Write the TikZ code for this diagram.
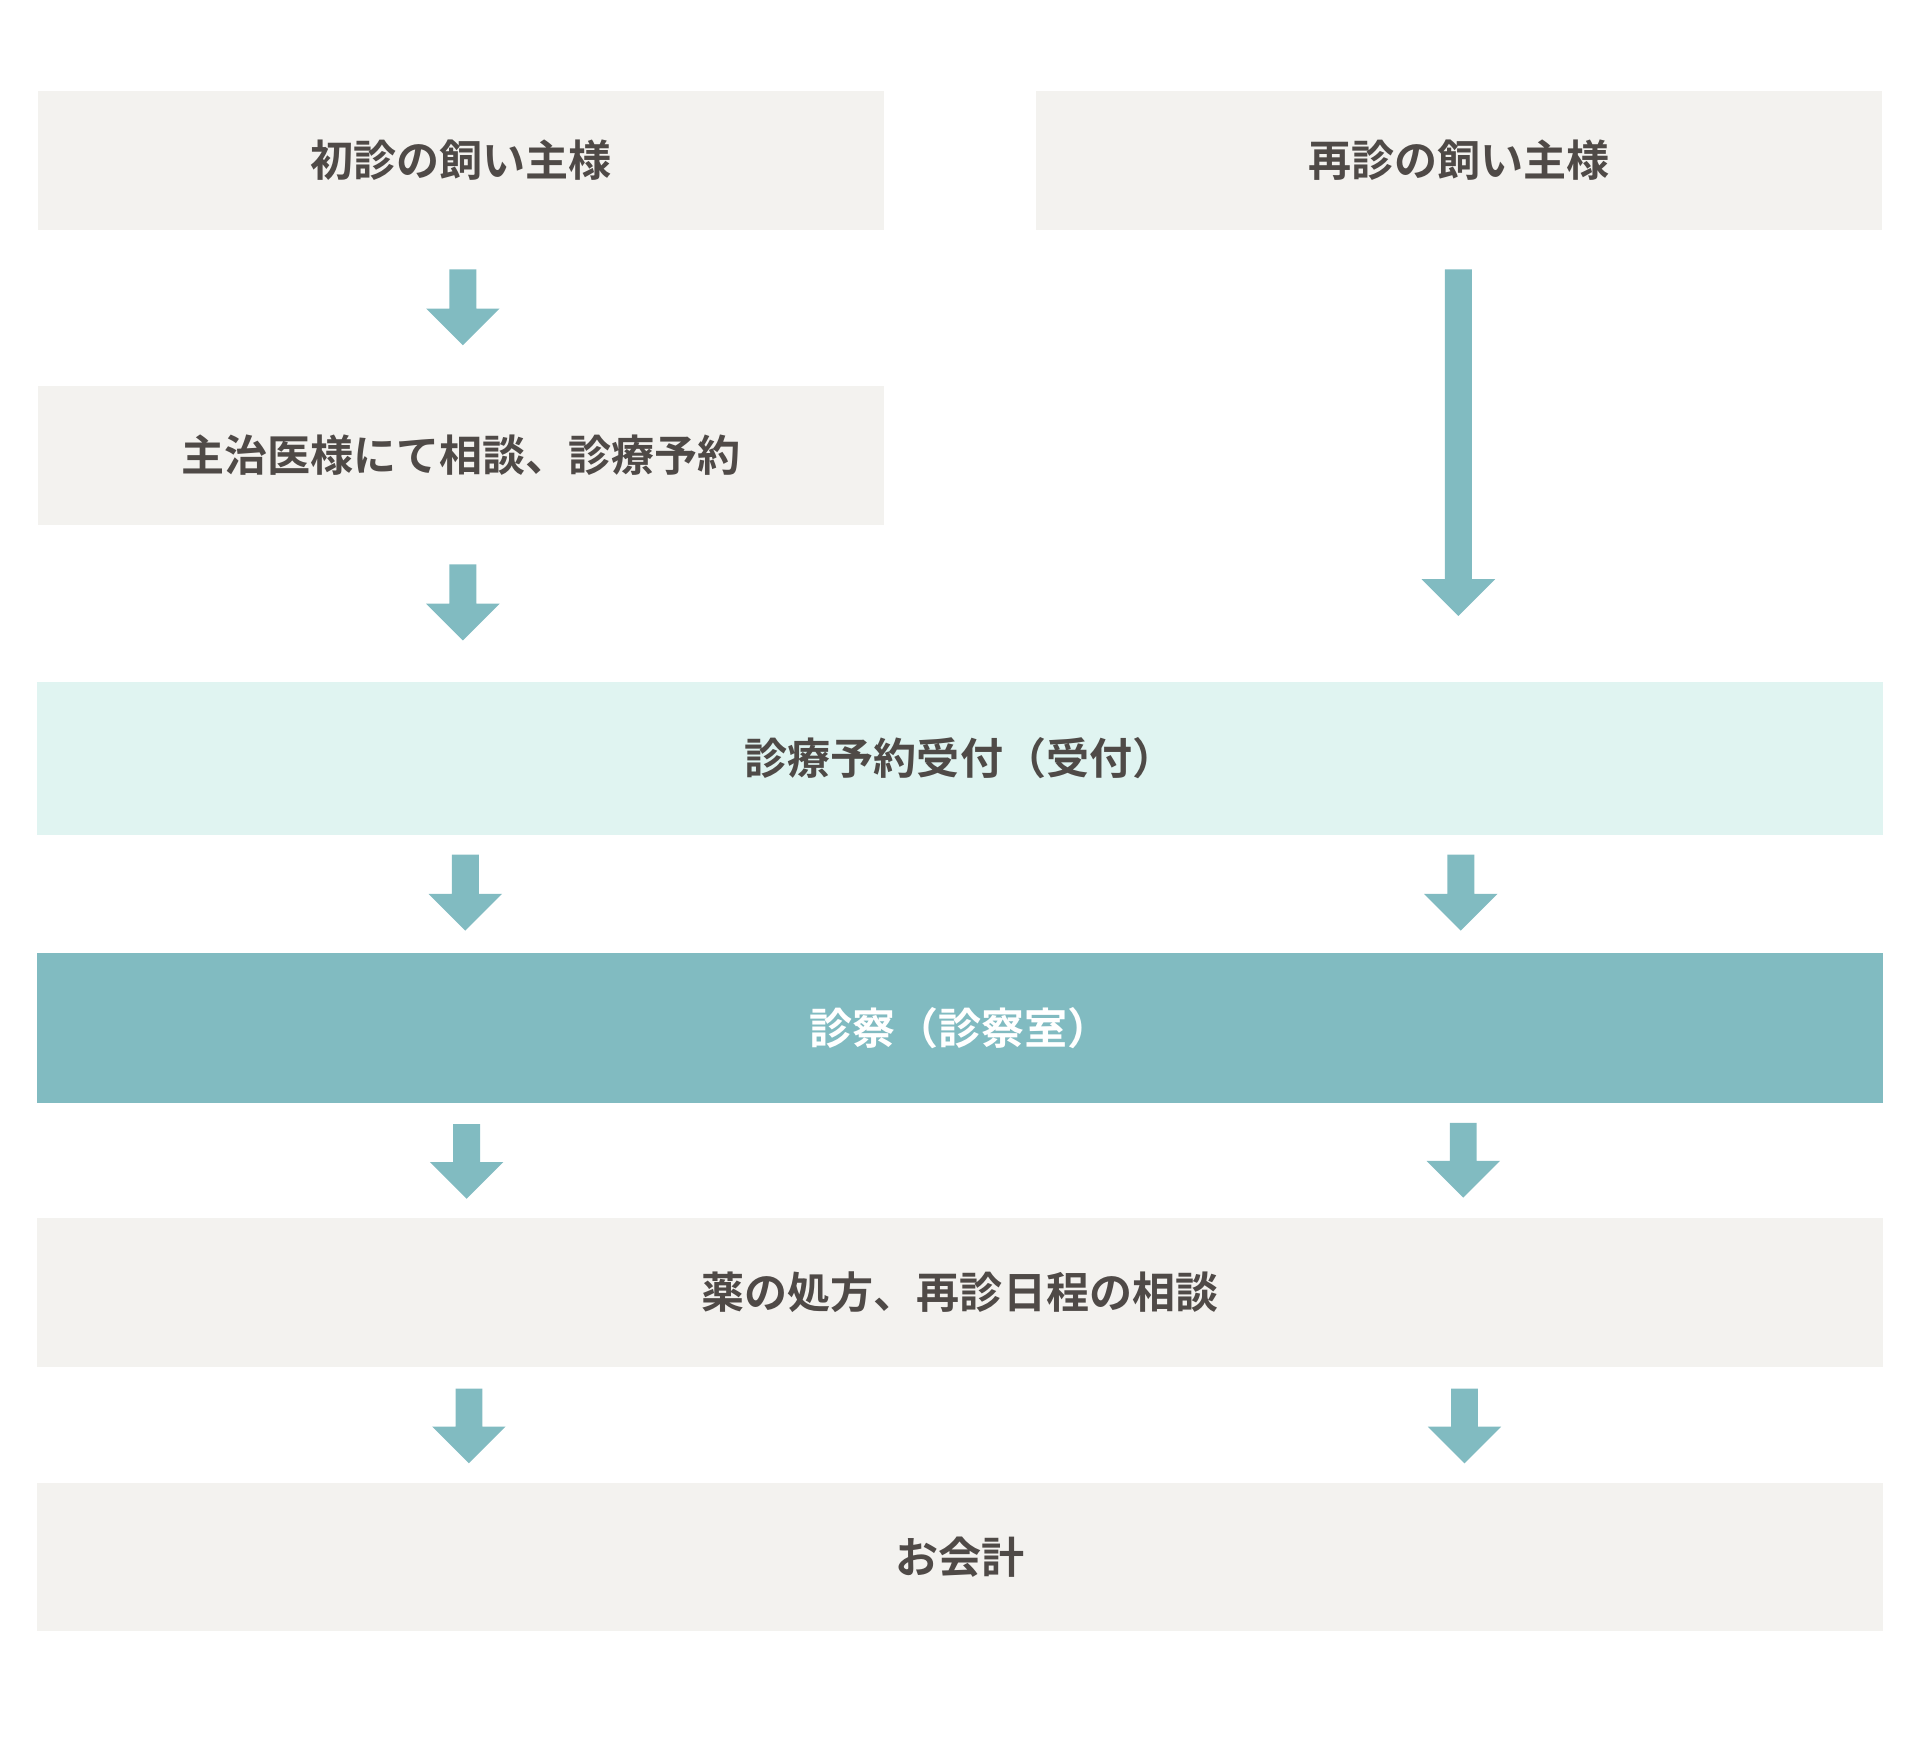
\documentclass[tikz,border=0pt]{standalone}
\usepackage{fontspec}
\setmainfont{Noto Sans CJK JP Bold}
\usetikzlibrary{positioning}
\definecolor{boxgray}{HTML}{F3F2EF}
\definecolor{boxmint}{HTML}{E0F4F1}
\definecolor{teal}{HTML}{81BBC1}
\definecolor{ink}{HTML}{4F4A47}
\tikzset{
  stepbox/.style={fill=boxgray, text=ink, font=\fontsize{10}{12}\selectfont, inner sep=0pt},
  half box/.style={stepbox, minimum width=6.91cm, minimum height=1.14cm},
  wide box/.style={stepbox, minimum width=15.06cm, minimum height=1.23cm},
}
% flow arrow: x, top y, bottom y
\newcommand{\flowarrow}[3]{%
  \fill[teal] (#1-11,#2) -- (#1+11,#2) -- (#1+11,#3-30) -- (#1+30,#3-30)
    -- (#1,#3) -- (#1-30,#3-30) -- (#1-11,#3-30) -- cycle;}
\begin{document}
\begin{tikzpicture}[x=0.01cm, y=-0.01cm]
\useasboundingbox (0,0) rectangle (1568,1424);
%the nodes
\node[half box] (first) at (376.5,131) {初診の飼い主様};
\node[half box] (repeat) at (1191.5,131) {再診の飼い主様};
\node[half box] (consult) at (376.5,372) {主治医様にて相談、診療予約};
\node[wide box, fill=boxmint, minimum height=1.25cm] (reception) at (784,619.5) {診療予約受付（受付）};
\node[wide box, fill=teal, text=white] (exam) at (784,839.5) {診察（診察室）};
\node[wide box, minimum height=1.21cm] (medicine) at (784,1055.5) {薬の処方、再診日程の相談};
\node[wide box, minimum height=1.21cm] (payment) at (784,1271.5) {お会計};
%arrows between boxes
\flowarrow{378}{220}{282}
\flowarrow{378}{461}{523}
\flowarrow{1191}{220}{503}
\flowarrow{380}{698}{760}
\flowarrow{1193}{698}{760}
\flowarrow{381}{918}{979}
\flowarrow{1195}{917}{978}
\flowarrow{383}{1134}{1195}
\flowarrow{1196}{1134}{1195}
\end{tikzpicture}
\end{document}
